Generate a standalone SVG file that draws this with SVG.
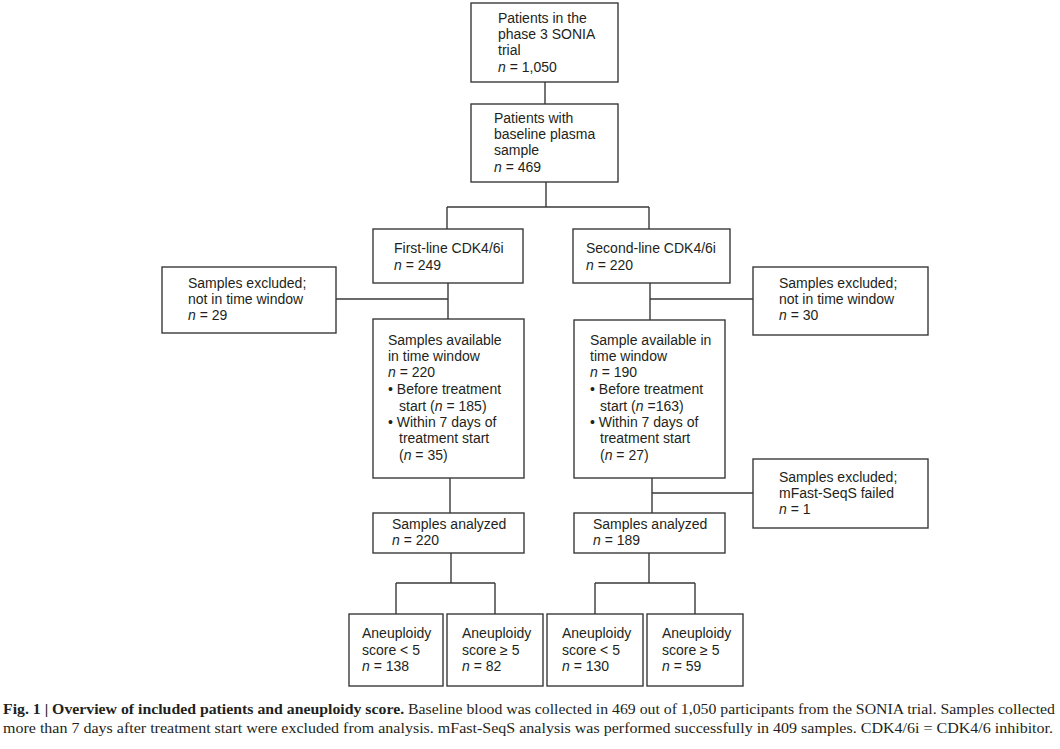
<svg xmlns="http://www.w3.org/2000/svg" width="1060" height="749" viewBox="0 0 1060 749">
<style>
.box{fill:#fff;stroke:#3a3a3a;stroke-width:1.4}
.c{fill:none;stroke:#3a3a3a;stroke-width:1.4}
.t{font-family:"Liberation Sans",Arial,sans-serif;font-size:14px;fill:#231f20}
.i{font-style:italic}
.cap{font-family:"Liberation Serif","Times New Roman",serif;font-size:15px;fill:#231f20}
.b{font-weight:bold}
</style>
<rect width="1060" height="749" fill="#fff"/>
<g id="connectors">
<path class="c" d="M545,82V104"/>
<path class="c" d="M546,182V207M447,207H649M447,207V229M649,207V229"/>
<path class="c" d="M448,283V319M336,299H448"/>
<path class="c" d="M650,283V320M650,299H753"/>
<path class="c" d="M450,478V513"/>
<path class="c" d="M652,478V513M652,493H753"/>
<path class="c" d="M451,553V583M396,583H495M396,583V614M495,583V614"/>
<path class="c" d="M649,553V583M595,583H695M595,583V614M695,583V614"/>
</g>
<g id="n1"><rect class="box" x="471" y="3" width="147" height="79"/>
<text class="t" x="498" y="23">Patients in the</text>
<text class="t" x="498" y="39">phase 3 SONIA</text>
<text class="t" x="498" y="55">trial</text>
<text class="t" x="498" y="72"><tspan class="i">n</tspan> = 1,050</text></g>
<g id="n2"><rect class="box" x="471" y="104" width="147" height="78"/>
<text class="t" x="494" y="123">Patients with</text>
<text class="t" x="494" y="139">baseline plasma</text>
<text class="t" x="494" y="155">sample</text>
<text class="t" x="494" y="172"><tspan class="i">n</tspan> = 469</text></g>
<g id="n3"><rect class="box" x="373" y="229" width="150" height="54"/>
<text class="t" x="394" y="253">First-line CDK4/6i</text>
<text class="t" x="394" y="270"><tspan class="i">n</tspan> = 249</text></g>
<g id="n4"><rect class="box" x="573" y="229" width="157" height="54"/>
<text class="t" x="586" y="253">Second-line CDK4/6i</text>
<text class="t" x="586" y="270"><tspan class="i">n</tspan> = 220</text></g>
<g id="n5"><rect class="box" x="162" y="267" width="174" height="66"/>
<text class="t" x="188" y="288">Samples excluded;</text>
<text class="t" x="188" y="304">not in time window</text>
<text class="t" x="188" y="320"><tspan class="i">n</tspan> = 29</text></g>
<g id="n6"><rect class="box" x="753" y="267" width="175" height="68"/>
<text class="t" x="779" y="288">Samples excluded;</text>
<text class="t" x="779" y="304">not in time window</text>
<text class="t" x="779" y="320"><tspan class="i">n</tspan> = 30</text></g>
<g id="n7"><rect class="box" x="373" y="319" width="151" height="159"/>
<text class="t" x="388" y="345">Samples available</text>
<text class="t" x="388" y="361">in time window</text>
<text class="t" x="388" y="377"><tspan class="i">n</tspan> = 220</text>
<text class="t" x="388" y="394">• Before treatment</text>
<text class="t" x="399" y="411">start (<tspan class="i">n</tspan> = 185)</text>
<text class="t" x="388" y="427">• Within 7 days of</text>
<text class="t" x="399" y="443">treatment start</text>
<text class="t" x="399" y="460">(<tspan class="i">n</tspan> = 35)</text></g>
<g id="n8"><rect class="box" x="574" y="320" width="151" height="158"/>
<text class="t" x="590" y="345">Sample available in</text>
<text class="t" x="590" y="361">time window</text>
<text class="t" x="590" y="377"><tspan class="i">n</tspan> = 190</text>
<text class="t" x="590" y="394">• Before treatment</text>
<text class="t" x="600" y="411">start (<tspan class="i">n</tspan> =163)</text>
<text class="t" x="590" y="427">• Within 7 days of</text>
<text class="t" x="600" y="443">treatment start</text>
<text class="t" x="600" y="460">(<tspan class="i">n</tspan> = 27)</text></g>
<g id="n9"><rect class="box" x="753" y="459" width="175" height="69"/>
<text class="t" x="779" y="482">Samples excluded;</text>
<text class="t" x="779" y="498">mFast-SeqS failed</text>
<text class="t" x="779" y="514"><tspan class="i">n</tspan> = 1</text></g>
<g id="n10"><rect class="box" x="373" y="513" width="151" height="40"/>
<text class="t" x="392" y="529">Samples analyzed</text>
<text class="t" x="392" y="545"><tspan class="i">n</tspan> = 220</text></g>
<g id="n11"><rect class="box" x="574" y="513" width="151" height="40"/>
<text class="t" x="593" y="529">Samples analyzed</text>
<text class="t" x="593" y="545"><tspan class="i">n</tspan> = 189</text></g>
<g id="n12"><rect class="box" x="349" y="614" width="94" height="72"/>
<text class="t" x="362" y="638">Aneuploidy</text>
<text class="t" x="362" y="655">score &lt; 5</text>
<text class="t" x="362" y="671"><tspan class="i">n</tspan> = 138</text></g>
<g id="n13"><rect class="box" x="447" y="614" width="96" height="72"/>
<text class="t" x="462" y="638">Aneuploidy</text>
<text class="t" x="462" y="655">score ≥ 5</text>
<text class="t" x="462" y="671"><tspan class="i">n</tspan> = 82</text></g>
<g id="n14"><rect class="box" x="547" y="614" width="96" height="72"/>
<text class="t" x="562" y="638">Aneuploidy</text>
<text class="t" x="562" y="655">score &lt; 5</text>
<text class="t" x="562" y="671"><tspan class="i">n</tspan> = 130</text></g>
<g id="n15"><rect class="box" x="647" y="614" width="96" height="72"/>
<text class="t" x="662" y="638">Aneuploidy</text>
<text class="t" x="662" y="655">score ≥ 5</text>
<text class="t" x="662" y="671"><tspan class="i">n</tspan> = 59</text></g>
<g id="caption">
<text class="cap" x="3" y="714" textLength="1052" lengthAdjust="spacingAndGlyphs"><tspan class="b">Fig. 1 | Overview of included patients and aneuploidy score.</tspan> Baseline blood was collected in 469 out of 1,050 participants from the SONIA trial. Samples collected</text>
<text class="cap" x="3" y="733" textLength="1050" lengthAdjust="spacingAndGlyphs">more than 7 days after treatment start were excluded from analysis. mFast-SeqS analysis was performed successfully in 409 samples. CDK4/6i = CDK4/6 inhibitor.</text>
</g>
</svg>
